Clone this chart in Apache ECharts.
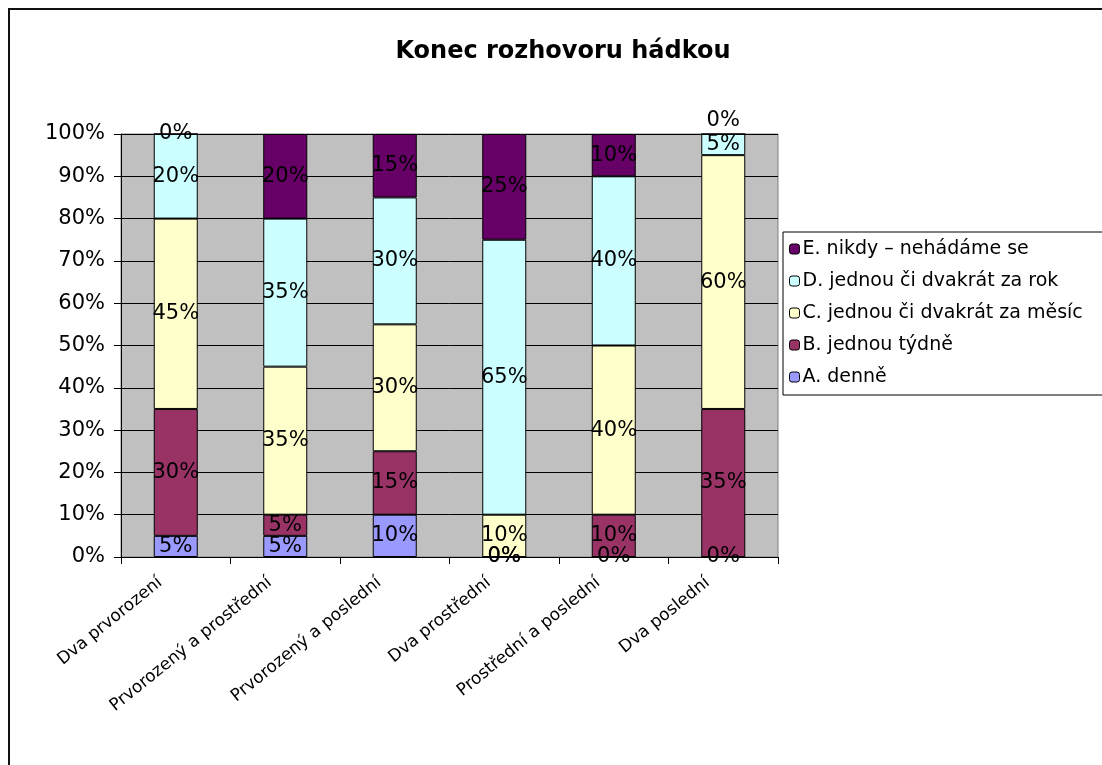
<!DOCTYPE html>
<html>
<head>
<meta charset="utf-8">
<script src="https://cdn.jsdelivr.net/npm/echarts@6/dist/echarts.min.js"></script>
<style>
  html, body { margin: 0; padding: 0; background: #fff; }
  #chart { width: 1102px; height: 765px; }
</style>
</head>
<body>
<div id="chart"></div>
<script>
const categories = ['Dva prvorození', 'Prvorozený a prostřední', 'Prvorozený a poslední', 'Dva prostřední', 'Prostřední a poslední', 'Dva poslední']

// podíly v procentech
const denne = [5, 5, 10, 0, 0, 0]
const tydne = [30, 5, 15, 0, 10, 35]
const mesic = [45, 35, 30, 10, 40, 60]
const rok = [20, 35, 30, 65, 40, 5]
const nikdy = [0, 20, 15, 25, 10, 0]

const seriesNames = ['A. denně', 'B. jednou týdně', 'C. jednou či dvakrát za měsíc', 'D. jednou či dvakrát za rok', 'E. nikdy – nehádáme se']
const seriesData = [denne, tydne, mesic, rok, nikdy]
const colors = ['#9999FF', '#993366', '#FFFFCC', '#CCFFFF', '#660066']

const font = 'DejaVu Sans'

const chart = echarts.init(document.getElementById('chart'))

// nulovy popisek nahore se posune nad sloupec, kdyz by se prekryval s tim pod nim
function buildData(i) {
  return seriesData[i].map((v, j) => {
    const last = i === seriesData.length - 1
    if (last && v === 0 && seriesData[i - 1][j] < 10) {
      return { value: v, label: { position: 'top', distance: 2 } }
    }
    return v
  })
}

chart.setOption({
  animation: false,
  textStyle: { fontFamily: font },
  title: {
    text: 'Konec rozhovoru hádkou',
    left: 558,
    top: 35,
    textAlign: 'center',
    textStyle: { fontFamily: font, fontSize: 24, fontWeight: 'bold', color: '#000' },
  },
  graphic: [
    {
      type: 'rect',
      shape: { x: 9, y: 9, width: 1200, height: 1000 },
      style: { fill: 'none', stroke: '#111', lineWidth: 2 },
      silent: true,
    },
  ],
  legend: {
    left: 783,
    top: 232,
    orient: 'vertical',
    data: seriesNames.slice().reverse(),
    itemWidth: 10,
    itemHeight: 10,
    itemGap: 12,
    padding: [7, 40, 8, 6],
    borderColor: '#000',
    borderWidth: 1,
    backgroundColor: '#fff',
    textStyle: { fontFamily: font, fontSize: 19, lineHeight: 20, color: '#000', padding: [0, 0, 0, -2] },
    itemStyle: { borderColor: '#000', borderWidth: 1 },
  },
  grid: {
    left: 121,
    right: 324,
    top: 134,
    bottom: 208,
    show: true,
    backgroundColor: '#C0C0C0',
    borderColor: '#808080',
    borderWidth: 1,
  },
  xAxis: {
    type: 'category',
    data: categories,
    axisLine: { lineStyle: { color: '#000', width: 1 } },
    axisTick: { show: true, length: 7, alignWithLabel: false, lineStyle: { color: '#000' } },
    axisLabel: {
      rotate: 39,
      interval: 0,
      margin: 11,
      padding: [0, 20, 0, 0],
      fontFamily: font,
      fontSize: 17,
      color: '#000',
    },
  },
  yAxis: {
    type: 'value',
    min: 0,
    max: 100,
    interval: 10,
    axisLine: { show: true, lineStyle: { color: '#000', width: 1 } },
    axisTick: { show: true, length: 7, lineStyle: { color: '#000' } },
    splitLine: { show: true, lineStyle: { color: '#000', width: 1 } },
    axisLabel: {
      formatter: '{value}%',
      margin: 16,
      fontFamily: font,
      fontSize: 21,
      color: '#000',
    },
  },
  series: seriesNames.map((name, i) => ({
    name: name,
    type: 'bar',
    stack: 'total',
    data: buildData(i),
    barWidth: 44,
    itemStyle: { color: colors[i], borderColor: '#000', borderWidth: 1 },
    label: {
      show: true,
      position: 'inside',
      formatter: '{c}%',
      fontFamily: font,
      fontSize: 21,
      color: '#000',
    },
    emphasis: { disabled: true },
  })),
})
</script>
</body>
</html>
